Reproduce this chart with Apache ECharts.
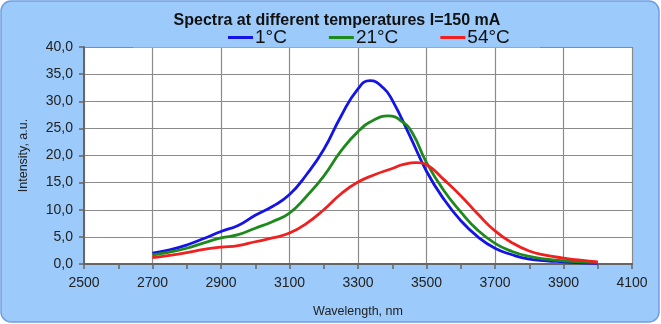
<!DOCTYPE html>
<html><head><meta charset="utf-8">
<script src="https://cdn.jsdelivr.net/npm/echarts@6/dist/echarts.min.js"></script>
<style>html,body{margin:0;padding:0;background:#fff}#c{width:661px;height:324px}</style>
</head><body><div id="c"></div>
<script>
const wl1 = [2700,2750,2800,2850,2900,2950,3000,3050,3100,3150,3200,3250,3300,3335,3375,3400,3450,3500,3550,3600,3650,3700,3750,3800,3850,3900,3950,4000];
const t1  = [2.0,2.6,3.5,4.7,6.0,7.1,9.0,10.6,12.8,16.5,21.1,27.2,32.3,33.8,32.4,30.2,23.8,17.1,12.0,8.0,5.0,2.9,1.7,0.9,0.6,0.4,0.2,0.1];
const wl21 = [2700,2750,2800,2850,2900,2950,3000,3050,3100,3150,3200,3250,3300,3345,3388,3430,3460,3500,3550,3600,3650,3700,3750,3800,3850,3900,3950,4000];
const t21  = [1.7,2.2,2.9,3.9,4.8,5.4,6.6,7.8,9.4,12.5,16.2,20.8,24.4,26.5,27.3,26.2,24.0,18.7,13.6,9.6,6.2,3.8,2.3,1.4,0.9,0.6,0.4,0.3];
const wl54 = [2700,2750,2800,2850,2900,2950,3000,3050,3100,3150,3200,3250,3300,3350,3400,3430,3470,3505,3550,3600,3650,3700,3750,3800,3850,3900,3950,4000];
const t54  = [1.2,1.6,2.1,2.7,3.1,3.4,4.1,4.8,5.7,7.5,10.0,12.9,15.1,16.5,17.6,18.3,18.7,18.1,15.6,12.6,9.2,6.1,3.9,2.4,1.6,1.1,0.7,0.4];
const seriesNames = ['1°C','21°C','54°C'];
const seriesColors = ['#1414e6','#1e8a1e','#ee2020'];
const title = 'Spectra at different temperatures I=150 mA';

const FONT = '"Liberation Sans", Arial, sans-serif';
const chart = echarts.init(document.getElementById('c'));
const mk = (name, xs, vals, color) => ({
  name, type: 'line', smooth: 0.5, symbol: 'none', z: 5,
  data: xs.map((w, i) => [w, vals[i]]),
  lineStyle: { color, width: 2.8 }, itemStyle: { color }
});
chart.setOption({
  animation: false,
  textStyle: { fontFamily: FONT },
  graphic: [
    { type: 'rect', z: -10, shape: { x: 1, y: 1, width: 658, height: 321, r: 10 },
      style: { fill: '#9ccafa', stroke: '#6e9fe2', lineWidth: 1.5 } },
    { type: 'rect', z: 3, shape: { x: 133, y: 44, width: 407, height: 3.5 },
      style: { fill: '#9ccafa' } }
  ],
  title: { text: title, left: 337, textAlign: 'center', top: 13, padding: 0,
    textStyle: { fontFamily: FONT, fontSize: 16, fontWeight: 'bold', color: '#111' } },
  legend: { left: 228, top: 28, padding: 0, z: 10, icon: 'rect', itemWidth: 25, itemHeight: 3, itemGap: 42,
    data: seriesNames,
    textStyle: { fontFamily: FONT, fontSize: 19, color: '#111', padding: [0, 0, 0, -3] } },
  grid: { left: 84, right: 29, top: 47, bottom: 60, show: true, backgroundColor: '#fff', borderWidth: 0 },
  xAxis: {
    type: 'value', min: 2500, max: 4100, interval: 200,
    name: 'Wavelength, nm', nameLocation: 'middle', nameGap: 41,
    nameTextStyle: { fontFamily: FONT, fontSize: 12.5, color: '#222' },
    axisLine: { lineStyle: { color: '#666', width: 2 } },
    axisTick: { show: true, length: 5, lineStyle: { color: '#666', width: 1.5 } },
    minorTick: { show: true, splitNumber: 2, length: 5, lineStyle: { color: '#666', width: 1.5 } },
    axisLabel: { fontFamily: FONT, fontSize: 14, color: '#222', margin: 12, formatter: v => String(v) },
    splitLine: { show: true, lineStyle: { color: '#8a8a8a', width: 1.2 } }
  },
  yAxis: {
    type: 'value', min: 0, max: 40, interval: 5,
    name: 'Intensity, a.u.', nameLocation: 'middle', nameGap: 54, nameRotate: 90,
    nameTextStyle: { fontFamily: FONT, fontSize: 12.5, color: '#222' },
    axisLine: { show: true, lineStyle: { color: '#666', width: 2 } },
    axisTick: { show: true, length: 5, lineStyle: { color: '#666', width: 1.5 } },
    axisLabel: { fontFamily: FONT, fontSize: 14, color: '#222', margin: 11,
      formatter: v => v.toFixed(1).replace('.', ',') },
    splitLine: { show: true, lineStyle: { color: '#8a8a8a', width: 1.2 } }
  },
  series: [mk(seriesNames[0], wl1, t1, seriesColors[0]), mk(seriesNames[1], wl21, t21, seriesColors[1]), mk(seriesNames[2], wl54, t54, seriesColors[2])]
});
</script></body></html>
